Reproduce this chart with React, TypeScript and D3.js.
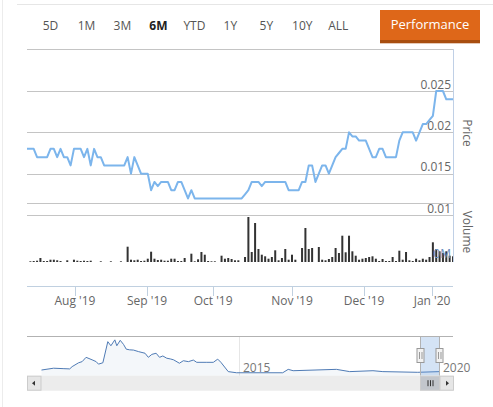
import React from "react";
import * as d3 from "d3";

// ---------- data ----------
const rangeButtons = ["5D", "1M", "3M", "6M", "YTD", "1Y", "5Y", "10Y", "ALL"];
const selectedButton = "6M";

// daily closing price (trading-day order)
const prices: number[] = [
  0.018, 0.018, 0.018, 0.017, 0.017, 0.017, 0.017, 0.018, 0.018, 0.017,
  0.018, 0.017, 0.017, 0.016, 0.018, 0.018, 0.018, 0.017, 0.018, 0.016,
  0.018, 0.017, 0.017, 0.016, 0.016, 0.016, 0.016, 0.016, 0.016, 0.016,
  0.017, 0.015, 0.017, 0.016, 0.015, 0.015, 0.015, 0.013, 0.014, 0.0135,
  0.014, 0.014, 0.014, 0.013, 0.013, 0.014, 0.014, 0.013, 0.012, 0.013,
  0.012, 0.012, 0.012, 0.012, 0.012, 0.012, 0.012, 0.012, 0.012, 0.012,
  0.012, 0.012, 0.012, 0.012, 0.012, 0.0125, 0.013, 0.014, 0.014, 0.014,
  0.0135, 0.014, 0.014, 0.014, 0.014, 0.014, 0.014, 0.014, 0.013, 0.013,
  0.013, 0.013, 0.014, 0.014, 0.016, 0.016, 0.014, 0.015, 0.016, 0.016,
  0.015, 0.016, 0.017, 0.0175, 0.018, 0.018, 0.02, 0.0195, 0.0195, 0.019,
  0.019, 0.019, 0.018, 0.017, 0.017, 0.018, 0.018, 0.017, 0.017, 0.017,
  0.017, 0.019, 0.02, 0.02, 0.02, 0.02, 0.019, 0.02, 0.021, 0.021,
  0.0215, 0.022, 0.025, 0.025, 0.025, 0.024, 0.024, 0.024,
];

// daily volume (hundred-thousands of shares)
const volumes: number[] = [
  0, 0.7, 1, 1.3, 4, 1, 1, 2.3, 2.3, 1.7,
  1, 0, 1.7, 0, 2.3, 1.3, 1, 1.3, 1, 1.3,
  0, 0, 0.7, 0, 0, 0.7, 0, 0, 0.7, 0,
  15.3, 2.3, 1.7, 2.3, 1, 1.3, 3.3, 10.3, 3.3, 2,
  2.3, 1.3, 1.3, 3.3, 3.3, 1, 1, 4, 0, 8.3,
  0.7, 2.7, 10, 7.3, 1, 0.7, 0.7, 0, 6.3, 3.3,
  4, 3, 1.7, 1.7, 0, 5, 45, 10, 39, 13,
  7.3, 5.7, 3.3, 5, 11.7, 1.7, 4, 13, 2.3, 7.3,
  2.3, 0, 14, 34, 13, 14, 0, 15, 2.3, 1.7,
  3, 5, 14, 9, 26.3, 9.7, 26.3, 10.7, 6.3, 2.3,
  3.3, 4, 5, 5.7, 3.3, 1, 3, 1, 1, 5,
  1, 11.3, 2.3, 10, 1.7, 1, 3.3, 1.7, 3.3, 2.3,
  5, 19.7, 13, 10.7, 9, 10.7, 6.3, 5.7,
];

// month ticks: label and position in trading-day index
const monthLabels = ["Aug '19", "Sep '19", "Oct '19", "Nov '19", "Dec '19", "Jan '20"];
const monthIndex = [14.3, 35.8, 55.5, 79, 100.5, 120.75];

const priceTicks = [0.01, 0.015, 0.02, 0.025];
const priceTickLabels = ["0.01", "0.015", "0.02", "0.025"];

// navigator (full history)
const navDates = [
  "2010-01-28", "2010-05-18", "2010-08-20", "2010-10-12", "2010-11-03", "2011-01-01", "2011-02-02",
  "2011-03-10", "2011-05-04", "2011-06-10", "2011-07-01", "2011-08-10", "2011-09-24",
  "2011-10-22", "2011-11-27", "2011-12-15", "2012-01-15", "2012-02-14", "2012-03-10",
  "2012-04-10", "2012-05-15", "2012-07-01", "2012-08-28", "2012-09-27", "2012-10-29", "2012-12-07",
  "2013-01-07", "2013-02-06", "2013-03-14", "2013-04-15", "2013-05-15", "2013-07-07", "2013-08-12",
  "2013-09-27", "2013-11-11", "2013-12-12", "2014-03-14", "2014-05-12", "2014-06-21",
  "2014-07-20", "2014-09-25", "2014-12-10", "2016-02-03", "2016-03-24", "2016-05-08",
  "2017-06-06", "2017-10-05", "2018-05-05", "2018-08-03", "2019-06-17", "2020-01-01",
];
const navValues = [
  0.025, 0.033, 0.031, 0.03, 0.04, 0.057, 0.062,
  0.081, 0.07, 0.062, 0.051, 0.057, 0.15,
  0.132, 0.158, 0.132, 0.156, 0.138, 0.117,
  0.114, 0.113, 0.106, 0.099, 0.081, 0.094, 0.099,
  0.081, 0.087, 0.077, 0.074, 0.07, 0.055, 0.066,
  0.062, 0.069, 0.059, 0.059, 0.059, 0.073,
  0.059, 0.018, 0.013, 0.013, 0.028, 0.022,
  0.028, 0.018, 0.022, 0.018, 0.015, 0.018,
];
const navYearLabels = ["2015", "2020"];
const navYearDates = ["2015-01-01", "2020-01-01"];
const selectionStart = "2019-07-12";
const selectionEnd = "2020-01-01";

// ---------- component ----------
const FONT = "'Open Sans', 'DejaVu Sans', sans-serif";

export default function App() {
  const W = 493;
  const H = 407;
  const L = 27;
  const R = 453;

  const x = d3.scaleLinear().domain([0, prices.length - 1]).range([L, R]);
  const yPrice = d3.scaleLinear().domain([0.01, 0.025]).range([215, 91]);
  const yVol = d3.scaleLinear().domain([0, 59]).range([262, 203]);
  const btnX = d3.scalePoint<string>().domain(rangeButtons).range([50.5, 338.3]);

  const parse = d3.timeParse("%Y-%m-%d");
  const navX = d3
    .scaleTime()
    .domain([new Date(2009, 8, 18), new Date(2020, 4, 3)])
    .range([L, R]);
  const navBottom = 375.7;
  const navTop = 336;
  const navY = d3.scaleLinear().domain([0, 0.175]).range([navBottom, navTop]);

  const linePath = d3
    .line<number>()
    .x((_, i) => x(i))
    .y((d) => yPrice(d))(prices) as string;

  const navPts = navDates.map((d, i) => ({ d: parse(d) as Date, v: navValues[i] }));
  const navLine = d3
    .line<{ d: Date; v: number }>()
    .x((p) => navX(p.d))
    .y((p) => navY(p.v))(navPts) as string;
  const navArea = d3
    .area<{ d: Date; v: number }>()
    .x((p) => navX(p.d))
    .y0(navBottom)
    .y1((p) => navY(p.v))(navPts) as string;

  const selX0 = navX(parse(selectionStart) as Date);
  const selX1 = navX(parse(selectionEnd) as Date);

  const sbTop = 375.7;
  const sbH = 15;

  const handle = (cx: number) => (
    <g key={cx}>
      <rect x={cx - 3.5} y={348.5} width={7} height={14} fill="#f2f2f2" stroke="#999" strokeWidth={1} />
      <line x1={cx - 1} x2={cx - 1} y1={352} y2={359} stroke="#999" />
      <line x1={cx + 1.5} x2={cx + 1.5} y1={352} y2={359} stroke="#999" />
    </g>
  );

  return (
    <svg
      width={W}
      height={H}
      style={{ position: "absolute", left: 0, top: 0, background: "#fff" }}
      fontFamily={FONT}
    >
      {/* outer container lines */}
      <line x1={17} x2={W} y1={4.5} y2={4.5} stroke="#e6e6e6" />
      <line x1={2.5} x2={2.5} y1={0} y2={H} stroke="#ececec" />

      {/* range selector */}
      {rangeButtons.map((b) => (
        <text
          key={b}
          x={btnX(b)}
          y={29.5}
          textAnchor="middle"
          fontSize={12}
          fontWeight={b === selectedButton ? 700 : 400}
          fill={b === selectedButton ? "#222" : "#555"}
        >
          {b}
        </text>
      ))}
      <rect x={380} y={10} width={100} height={33} fill="#de6719" />
      <rect x={380} y={40} width={100} height={3.3} fill="#a84e10" />
      <text x={430} y={29} textAnchor="middle" fontSize={13} fill="#fff">
        Performance
      </text>

      {/* plot box top */}
      <line x1={L} x2={R} y1={49.5} y2={49.5} stroke="#c4c4c4" />

      {/* price grid */}
      {priceTicks.map((t, i) => (
        <g key={t}>
          <line x1={L} x2={R} y1={Math.round(yPrice(t)) + 0.5} y2={Math.round(yPrice(t)) + 0.5} stroke="#c4c4c4" />
          <text x={451} y={yPrice(t) - 2.5} textAnchor="end" fontSize={12} fill="#666">
            {priceTickLabels[i]}
          </text>
        </g>
      ))}
      {/* volume pane top */}
      <line x1={L} x2={R} y1={Math.round(yVol(59)) + 0.5} y2={Math.round(yVol(59)) + 0.5} stroke="#c4c4c4" />

      {/* volume bars */}
      {volumes.map((v, i) =>
        v > 0 ? (
          <rect
            key={i}
            x={x(i) - 1}
            y={yVol(v)}
            width={2}
            height={yVol(0) - yVol(v)}
            fill="#333"
          />
        ) : null
      )}

      {/* price line */}
      <path d={linePath} fill="none" stroke="#7cb5ec" strokeWidth={2} strokeLinejoin="round" />

      {/* right axis line */}
      <line x1={R + 0.5} x2={R + 0.5} y1={49} y2={262} stroke="#c0d0e6" strokeWidth={1} />
      <text x={451} y={258} textAnchor="end" fontSize={12} fill="#6a8fc0">
        0M
      </text>

      {/* axis titles */}
      <text transform="translate(467,133) rotate(90)" textAnchor="middle" dy="0.35em" fontSize={12} fill="#666">
        Price
      </text>
      <text transform="translate(467,232) rotate(90)" textAnchor="middle" dy="0.35em" fontSize={12} fill="#666">
        Volume
      </text>

      {/* x axis */}
      <line x1={L} x2={R} y1={286.5} y2={286.5} stroke="#c0d0e0" />
      {monthIndex.map((m, i) => (
        <g key={m}>
          <line x1={Math.round(x(m)) + 0.5} x2={Math.round(x(m)) + 0.5} y1={286} y2={296} stroke="#c0d0e0" />
          <text x={x(m)} y={305} textAnchor="middle" fontSize={12} fill="#666">
            {monthLabels[i]}
          </text>
        </g>
      ))}

      {/* navigator */}
      {navYearDates.map((d, i) => {
        const px = Math.round(navX(parse(d) as Date)) + 0.5;
        return (
          <g key={d}>
            <line x1={px} x2={px} y1={navTop} y2={navBottom} stroke="#e6e6e6" />
            <text x={px + 3.5} y={372} fontSize={12} fill="#777">
              {navYearLabels[i]}
            </text>
          </g>
        );
      })}
      <path d={navArea} fill="rgba(69,114,167,0.06)" />
      <path d={navLine} fill="none" stroke="#4f7bb5" strokeWidth={1} />
      <rect x={selX0} y={navTop} width={selX1 - selX0} height={navBottom - navTop} fill="rgba(102,153,220,0.28)" />
      <line x1={L} x2={R} y1={navTop + 0.5} y2={navTop + 0.5} stroke="#b2b2b2" />
      <line x1={selX0} x2={selX0} y1={navTop} y2={navBottom} stroke="#b2b2b2" />
      <line x1={selX1} x2={selX1} y1={navTop} y2={navBottom} stroke="#b2b2b2" />
      {handle(selX0)}
      {handle(selX1)}

      {/* scrollbar */}
      <rect x={L} y={sbTop} width={R - L} height={sbH} fill="#ececec" />
      <rect x={L + 0.5} y={sbTop + 0.5} width={13.5} height={sbH - 1} fill="#e6e6e6" stroke="#cccccc" />
      <path d={`M${L + 8},${sbTop + 5} L${L + 5},${sbTop + 7.5} L${L + 8},${sbTop + 10} Z`} fill="#333" />
      <rect x={selX0} y={sbTop + 0.5} width={selX1 - selX0} height={sbH - 1} fill="#c2c6cc" stroke="#cccccc" />
      {[-2.5, 0, 2.5].map((o) => {
        const cx = Math.round((selX0 + selX1) / 2) + 0.5 + o;
        return <line key={o} x1={cx} x2={cx} y1={sbTop + 4.5} y2={sbTop + 10.5} stroke="#333" />;
      })}
      <rect x={selX1 + 0.5} y={sbTop + 0.5} width={R - selX1} height={sbH - 1} fill="#e6e6e6" stroke="#cccccc" />
      <path
        d={`M${selX1 + 6.5},${sbTop + 5} L${selX1 + 9.5},${sbTop + 7.5} L${selX1 + 6.5},${sbTop + 10} Z`}
        fill="#333"
      />
    </svg>
  );
}
